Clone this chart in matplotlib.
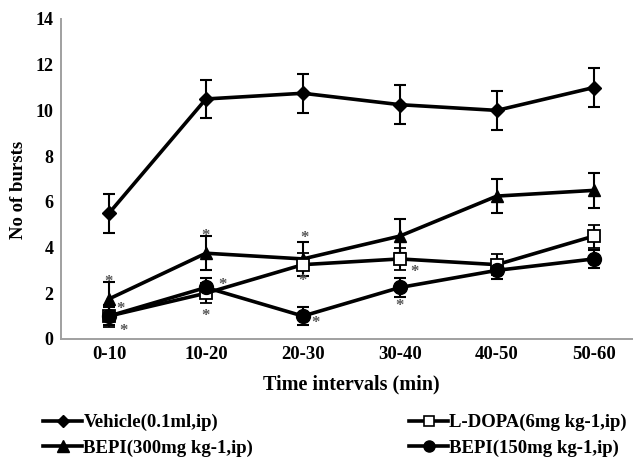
import matplotlib
matplotlib.use("Agg")
import matplotlib.pyplot as plt
from matplotlib.lines import Line2D
import numpy as np

categories = ["0-10", "10-20", "20-30", "30-40", "40-50", "50-60"]
vehicle = [5.5, 10.5, 10.75, 10.25, 10.0, 11.0]
vehicle_err = [0.85, 0.85, 0.85, 0.85, 0.85, 0.85]
ldopa = [1.0, 2.0, 3.25, 3.5, 3.25, 4.5]
ldopa_err = [0.5, 0.45, 0.5, 0.5, 0.45, 0.5]
bepi300 = [1.75, 3.75, 3.5, 4.5, 6.25, 6.5]
bepi300_err = [0.75, 0.75, 0.75, 0.75, 0.75, 0.75]
bepi150 = [1.0, 2.25, 1.0, 2.25, 3.0, 3.5]
bepi150_err = [0.4, 0.4, 0.4, 0.4, 0.4, 0.4]
yticks = [0, 2, 4, 6, 8, 10, 12, 14]
labels = ['Vehicle(0.1ml,ip)', 'BEPI(300mg kg-1,ip)', 'L-DOPA(6mg kg-1,ip)', 'BEPI(150mg kg-1,ip)']

# significance asterisks: category index, x offset, y
star_cat = [0, 0, 0, 1, 1, 1, 2, 2, 2, 3, 3]
star_dx = [0.0, 0.12, 0.15, 0.0, 0.17, 0.0, 0.02, 0.0, 0.13, 0.15, 0.0]
star_y = [2.5, 1.3, 0.35, 4.5, 2.35, 1.0, 4.4, 2.55, 0.7, 2.95, 1.45]

plt.rcParams['font.family'] = ['Liberation Serif', 'DejaVu Serif']
plt.rcParams['font.weight'] = 'bold'

fig = plt.figure(figsize=(6.33, 4.63), dpi=100)
ax = fig.add_axes([0.0956, 0.268, 0.919, 0.691])
x = np.arange(len(categories))

common = dict(color='black', lw=2.6, elinewidth=1.5, capsize=4, capthick=1.5)
ax.errorbar(x, vehicle, yerr=vehicle_err, marker='D', ms=7, mfc='black', mec='black', **common)
ax.errorbar(x, bepi300, yerr=bepi300_err, marker='^', ms=9, mfc='black', mec='black', **common)
ax.errorbar(x, ldopa, yerr=ldopa_err, marker='s', ms=9, mfc='white', mec='black', mew=1.3, **common)
ax.errorbar(x, bepi150, yerr=bepi150_err, marker='o', ms=10, mfc='black', mec='black', **common)

for c, dx, yy in zip(star_cat, star_dx, star_y):
    ax.text(c + dx, yy, '*', ha='center', va='center', fontsize=12, color='#555555')

ax.set_xlim(-0.5, 5.5)
ax.set_ylim(0, 14)
ax.set_yticks(yticks)
ax.set_xticks(x)
ax.set_xticklabels(categories)
ax.tick_params(axis='y', length=0, labelsize=13, pad=5)
ax.tick_params(axis='x', length=0, labelsize=13.5, pad=5)
for lab in ax.get_xticklabels() + ax.get_yticklabels():
    lab.set_fontweight('bold')
for s in ['top', 'right']:
    ax.spines[s].set_visible(False)
for s in ['left', 'bottom']:
    ax.spines[s].set_color('#a0a0a0')
    ax.spines[s].set_linewidth(1.4)

ax.set_ylabel('No of bursts', fontsize=13.5, fontweight='bold')
ax.yaxis.set_label_coords(-0.058, 0.466)
ax.set_xlabel('Time intervals (min)', fontsize=14.5, fontweight='bold')
ax.xaxis.set_label_coords(0.50, -0.11)

lh = [
    Line2D([], [], color='black', lw=2.6, marker='D', ms=6, mfc='black'),
    Line2D([], [], color='black', lw=2.6, marker='^', ms=8, mfc='black'),
    Line2D([], [], color='black', lw=2.6, marker='s', ms=7, mfc='white', mew=1.2),
    Line2D([], [], color='black', lw=2.6, marker='o', ms=8, mfc='black'),
]
leg = fig.legend(lh, labels, ncol=2, loc='upper left', bbox_to_anchor=(43 / 633, 1 - 414 / 463),
                 frameon=False, fontsize=13.5, handlelength=2.1, handletextpad=0.05,
                 columnspacing=8.3, labelspacing=0.45, borderaxespad=0, borderpad=0)
for t in leg.get_texts():
    t.set_fontweight('bold')

fig.savefig('out.png', dpi=100)
